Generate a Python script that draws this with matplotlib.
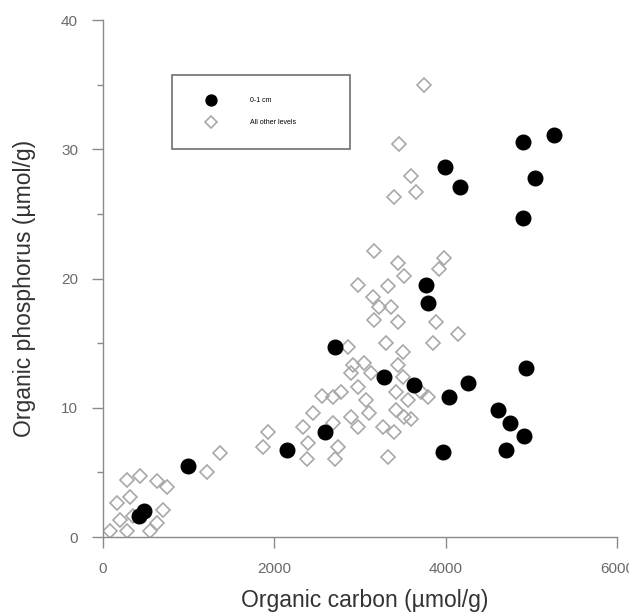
import numpy as np
import matplotlib
matplotlib.use('Agg')
import matplotlib.pyplot as plt

plt.rcParams['font.family'] = ['Liberation Sans', 'DejaVu Sans']

# surface sediment, 0-1 cm  (organic C vs organic P, umol/g)
top_c = [5263, 4900, 5041, 3988, 4164, 4900, 3766, 3789, 4936, 3626,
         4257, 4035, 4608, 4749, 4912, 3965, 4702, 2702, 3275, 2596,
         2152, 994, 420, 480]
top_p = [31.1, 30.6, 27.8, 28.6, 27.1, 24.7, 19.5, 18.1, 13.1, 11.8,
         11.9, 10.8, 9.8, 8.8, 7.8, 6.6, 6.7, 14.7, 12.4, 8.1,
         6.7, 5.5, 1.6, 2.0]

# all deeper levels
deep_c = [3743, 3450, 3591, 3649, 3392, 3158, 3439, 3509, 3977, 3918,
          2982, 3322, 3146, 3216, 3357, 3158, 3439, 3883, 3848, 4140,
          2854, 3298, 3497, 2912, 3041, 3123, 3439, 3497, 2889, 2772,
          2971, 2561, 2690, 3064, 3415, 3556, 3789, 2456, 2889, 3099,
          3415, 3509, 2690, 2971, 3263, 3392, 2339, 1930, 1871, 2398,
          2737, 3322, 2386, 2713, 3708, 3591, 1368, 1216, 281, 433,
          632, 749, 164, 316, 702, 632, 199, 82, 281, 550, 351]
deep_p = [35.0, 30.4, 27.9, 26.7, 26.3, 22.1, 21.2, 20.2, 21.6, 20.7,
          19.5, 19.4, 18.6, 17.8, 17.8, 16.8, 16.6, 16.6, 15.0, 15.7,
          14.7, 15.0, 14.3, 13.3, 13.5, 12.7, 13.3, 12.4, 12.7, 11.2,
          11.6, 10.9, 10.8, 10.6, 11.2, 10.6, 10.8, 9.6, 9.3, 9.6,
          9.8, 9.3, 8.8, 8.5, 8.5, 8.1, 8.5, 8.1, 7.0, 7.3,
          7.0, 6.2, 6.0, 6.0, 11.2, 9.1, 6.5, 5.0, 4.4, 4.7,
          4.3, 3.9, 2.6, 3.1, 2.1, 1.1, 1.3, 0.5, 0.5, 0.5, 1.6]

xticks = [0, 2000, 4000, 6000]
yticks = [0, 10, 20, 30, 40]

fig = plt.figure(figsize=(6.29, 6.16), dpi=100)
ax = fig.add_axes([0.1638, 0.1282, 0.8172, 0.8393])

ax.plot(top_c, top_p, 'o', ms=10.5, color='black', mec='black',
        label='0-1 cm', zorder=3)
ax.plot(deep_c, deep_p, 'D', ms=7.5, mfc='none', mec='#a8a8a8', mew=1.2,
        label='All other levels', zorder=2)

ax.set_xlim(0, 6000)
ax.set_ylim(0, 40)
ax.set_xticks(xticks)
ax.set_yticks(yticks)
ax.set_yticks([5, 15, 25, 35], minor=True)

for s in ['top', 'right']:
    ax.spines[s].set_visible(False)
for s in ['left', 'bottom']:
    ax.spines[s].set_color('#8a8a8a')
    ax.spines[s].set_linewidth(1.0)

ax.tick_params(which='major', direction='out', length=8, width=1.0,
               color='#8a8a8a', labelcolor='#6a6a6a', labelsize=11, pad=10)
ax.tick_params(which='minor', direction='out', length=4, width=1.0,
               color='#8a8a8a')

ax.set_xlabel('Organic carbon (µmol/g)', fontsize=16.5, color='#333333')
ax.set_ylabel('Organic phosphorus (µmol/g)', fontsize=16.5, color='#333333')
ax.xaxis.set_label_coords(0.51, -0.1)
ax.yaxis.set_label_coords(-0.13, 0.48)

leg = ax.legend(loc='center', bbox_to_anchor=(0.134, 0.746, 0.346, 0.153),
                mode='expand', fontsize=5, borderpad=3.2, labelspacing=2.2,
                handlelength=5, handletextpad=3.1, borderaxespad=0,
                fancybox=False, framealpha=1, numpoints=1, markerscale=0.75)
leg.get_frame().set_edgecolor('#707070')
leg.get_frame().set_linewidth(1.2)

fig.savefig('out.png', dpi=100)
